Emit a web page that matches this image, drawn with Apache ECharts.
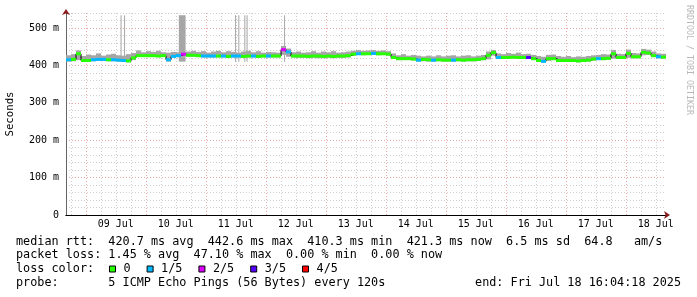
<!DOCTYPE html>
<html><head><meta charset="utf-8">
<script src="https://cdn.jsdelivr.net/npm/echarts@6/dist/echarts.min.js"></script>
<style>html,body{margin:0;padding:0;background:#fff}#c{width:697px;height:297px}</style>
</head><body><div id="c"></div>
<script>
// time is expressed in hours since 08 Jul 2025 00:00
const startHour = 16.0717;   // 08 Jul 16:04:18
const endHour = 256.0717;    // 18 Jul 16:04:18
const stepHours = 2;

const median = [
415,416,431,413,413,415,416,416,415,415,414,413,412,420,426,426,426,426,425,426,
415,424,426,430,427,427,426,425,425,425,425,425,424,425,425,424,425,425,424,425,
425,425,425,442,436,425,425,425,424,425,425,424,425,424,425,425,426,430,431,431,
431,432,431,431,430,421,418,418,418,417,414,416,415,414,415,414,414,414,415,414,
415,415,416,418,427,434,421,421,421,422,421,421,421,418,413,411,418,418,413,413,
413,413,412,413,414,417,418,418,419,431,421,421,432,423,423,435,433,426,423,422];

const lossLevel = [
1,0,0,0,0,1,1,1,0,1,1,1,0,0,0,0,0,0,0,0,
1,1,1,2,0,0,0,1,1,1,0,1,0,1,1,0,0,1,0,0,
1,0,0,2,1,0,0,0,0,0,0,0,0,0,0,0,0,0,1,0,
0,1,0,0,0,0,0,0,0,0,1,0,0,1,0,0,0,1,0,0,
0,0,0,0,0,0,1,0,0,0,0,0,3,0,0,1,0,0,0,0,
0,0,0,0,0,0,1,0,0,0,0,0,0,0,0,0,0,0,1,0];

const smokeHi = [
427,430,440,425,429,427,432,426,429,431,427,426,430,433,440,435,438,436,439,435,
434,436,435,436,437,439,436,438,434,437,439,435,438,436,434,437,439,435,438,434,
436,435,434,452,445,435,437,434,435,438,434,437,435,438,434,435,437,439,441,439,
440,441,439,440,438,432,427,430,426,428,426,424,426,424,427,424,426,427,424,426,
427,424,426,428,437,441,432,430,433,431,434,430,431,428,425,423,428,429,425,423,
425,422,424,423,425,427,428,430,429,441,431,430,442,433,432,444,442,437,432,431];

const smokeLo = [
410,411,414,409,410,411,412,412,411,411,410,409,408,414,423,423,422,422,422,423,
410,421,422,425,423,423,422,421,421,421,421,421,420,421,421,420,421,421,420,421,
421,421,421,428,423,421,420,420,419,420,419,419,420,419,420,420,421,427,428,427,
428,428,427,428,426,417,414,414,414,413,410,411,410,410,411,410,410,410,411,410,
411,411,412,414,416,426,418,418,417,418,417,417,417,414,409,407,412,414,409,409,
409,409,408,409,410,413,414,414,415,418,417,417,420,419,419,427,428,422,419,418];

// tall grey spikes (ping outliers)
const spikeStart = [37.9, 39.3, 61.2, 83.7, 85.0, 87.4, 88.3, 103.3];
const spikeEnd   = [38.3, 39.7, 63.9, 84.1, 85.4, 87.8, 88.7, 103.7];
const spikeTop   = [534, 534, 534, 534, 534, 534, 534, 534];

const lossNames  = ['0', '1/5', '2/5', '3/5', '4/5'];
const lossColors = ['#26ff00', '#00b8ff', '#dd00ff', '#5500ff', '#ff0000'];

const xTickLabels = ['09 Jul','10 Jul','11 Jul','12 Jul','13 Jul','14 Jul','15 Jul','16 Jul','17 Jul','18 Jul'];
const yMax = 540;

const statsLines = [
  'median rtt:  420.7 ms avg  442.6 ms max  410.3 ms min  421.3 ms now  6.5 ms sd  64.8   am/s',
  'packet loss: 1.45 % avg  47.10 % max  0.00 % min  0.00 % now',
  'loss color:',
  'probe:       5 ICMP Echo Pings (56 Bytes) every 120s'
];
const endText = 'end: Fri Jul 18 16:04:18 2025';
const sideText = 'RRDTOOL / TOBI OETIKER';

// ---------- build ----------
const times = median.map((_, i) => startHour + i * stepHours);
const smokeData = median.map((_, i) => [times[i], times[i] + stepHours, smokeLo[i], smokeHi[i]]);
const spikeData = spikeStart.map((s, i) => [s, spikeEnd[i], smokeLo[0], spikeTop[i]]);
const lineData = median.map((v, i) => [times[i], v]);
lineData.push([endHour, median[median.length - 1]]);

function bandItem(params, api) {
  const p0 = api.coord([api.value(0), api.value(3)]);
  const p1 = api.coord([api.value(1), api.value(2)]);
  return { type: 'rect', shape: { x: p0[0], y: p0[1], width: p1[0] - p0[0], height: p1[1] - p0[1] },
           style: { fill: '#a6a6a6' } };
}
function medItem(params, api) {
  const p0 = api.coord([api.value(0), api.value(2)]);
  const p1 = api.coord([api.value(1), api.value(2)]);
  return { type: 'rect', shape: { x: p0[0], y: p0[1] - 1.5, width: p1[0] - p0[0], height: 3 },
           style: { fill: api.visual('color') } };
}

const lossSeries = lossNames.map((name, lv) => ({
  type: 'custom', name: name, xAxisIndex: 0, yAxisIndex: 0, z: 4,
  itemStyle: { color: lossColors[lv] },
  renderItem: medItem,
  encode: { x: [0, 1], y: 2 },
  data: median.map((v, i) => lossLevel[i] === lv ? [times[i], times[i] + stepHours, v] : null).filter(d => d)
}));

const MONO = '"DejaVu Sans Mono", monospace';
const dotted = [1, 2];

const option = {
  animation: false,
  backgroundColor: '#fff',
  grid: { left: 66, top: 13, width: 600, height: 202, containLabel: false, outerBoundsMode: 'none' },
  xAxis: [
    { type: 'value', min: startHour, max: endHour, minInterval: 6, maxInterval: 6, position: 'bottom',
      axisLine: { show: true, onZero: false, symbol: ['none', 'arrow'], symbolSize: [6, 6], symbolOffset: [0, 4],
                  lineStyle: { color: '#8b1a1a', width: 1 } },
      axisTick: { show: false }, axisLabel: { show: false },
      splitLine: { show: true, showMinLine: false, showMaxLine: false, lineStyle: { color: '#cfcfcf', type: dotted, width: 1 } } },
    { type: 'value', min: startHour, max: endHour, minInterval: 24, maxInterval: 24, position: 'bottom',
      axisLine: { show: true, onZero: false, lineStyle: { color: '#000', width: 1 } },
      axisTick: { show: false }, axisLabel: { show: false },
      splitLine: { show: true, showMinLine: false, showMaxLine: false, lineStyle: { color: '#e8a8a8', type: dotted, width: 1 } } },
    { type: 'value', min: startHour - 12, max: endHour - 12, minInterval: 24, maxInterval: 24, position: 'bottom',
      axisLine: { show: false, onZero: false }, axisTick: { show: false }, splitLine: { show: false },
      axisLabel: { show: true, margin: 4, showMinLabel: false, showMaxLabel: false, color: '#000',
                   fontFamily: MONO, fontSize: 10,
                   formatter: v => (v % 24 === 0 ? (xTickLabels[v / 24 - 1] || '') : '') } }
  ],
  yAxis: [
    { type: 'value', min: 0, max: yMax, minInterval: 20, maxInterval: 20, position: 'left',
      axisLine: { show: true, symbol: ['none', 'arrow'], symbolSize: [6, 6], symbolOffset: [0, 4],
                  lineStyle: { color: '#8b1a1a', width: 1 } },
      axisTick: { show: false }, axisLabel: { show: false },
      splitLine: { show: true, showMinLine: false, lineStyle: { color: '#cfcfcf', type: dotted, width: 1 } } },
    { type: 'value', min: 0, max: yMax, interval: 100, position: 'left',
      name: 'Seconds', nameLocation: 'middle', nameRotate: 90, nameGap: 50,
      nameTextStyle: { fontFamily: MONO, fontSize: 10.7, color: '#000' },
      axisLine: { show: true, lineStyle: { color: '#666', width: 1 } },
      axisTick: { show: false },
      axisLabel: { show: true, margin: 7, showMaxLabel: false, color: '#000', fontFamily: MONO, fontSize: 10,
                   formatter: v => (v === 0 ? '0' : v + ' m') },
      splitLine: { show: true, showMinLine: false, showMaxLine: false, lineStyle: { color: '#e8a8a8', type: dotted, width: 1 } } }
  ],
  legend: {
    left: 109, top: 262, padding: 0, itemGap: 16, itemWidth: 6, itemHeight: 6, icon: 'rect',
    itemStyle: { borderColor: '#000', borderWidth: 1 },
    textStyle: { fontFamily: MONO, fontSize: 11.8, color: '#000', lineHeight: 14, padding: [0, 0, 0, 3] },
    data: lossNames.map((n, i) => ({ name: n, icon: 'rect', itemStyle: { color: lossColors[i], borderColor: '#000', borderWidth: 1 } }))
  },
  series: [
    { type: 'custom', name: 'smoke', xAxisIndex: 0, yAxisIndex: 0, z: 2, renderItem: bandItem,
      encode: { x: [0, 1], y: [2, 3] }, data: smokeData, silent: true },
    { type: 'custom', name: 'spikes', xAxisIndex: 0, yAxisIndex: 0, z: 2, renderItem: bandItem,
      encode: { x: [0, 1], y: [2, 3] }, data: spikeData, silent: true },
    { type: 'line', name: 'median', xAxisIndex: 0, yAxisIndex: 0, z: 3, step: 'end', showSymbol: false,
      lineStyle: { color: '#000', width: 1 }, data: lineData, silent: true }
  ].concat(lossSeries),
  graphic: [
    ...statsLines.map((t, i) => ({ type: 'text', x: 16, y: [241.7, 255.2, 269, 282.7][i], silent: true,
        style: { text: t, font: '11.8px ' + MONO, fill: '#000', textVerticalAlign: 'middle', verticalAlign: 'middle' } })),
    { type: 'text', x: 681, y: 282.7, silent: true,
      style: { text: endText, font: '11.8px ' + MONO, fill: '#000', textAlign: 'right', align: 'right',
               textVerticalAlign: 'middle', verticalAlign: 'middle' } },
    { type: 'text', x: 689, y: 5, rotation: -Math.PI / 2, silent: true,
      style: { text: sideText, font: '8.3px ' + MONO, fill: '#b8b8b8', textVerticalAlign: 'middle', verticalAlign: 'middle' } }
  ]
};
echarts.init(document.getElementById('c'), null, { renderer: 'canvas' }).setOption(option);
</script></body></html>
